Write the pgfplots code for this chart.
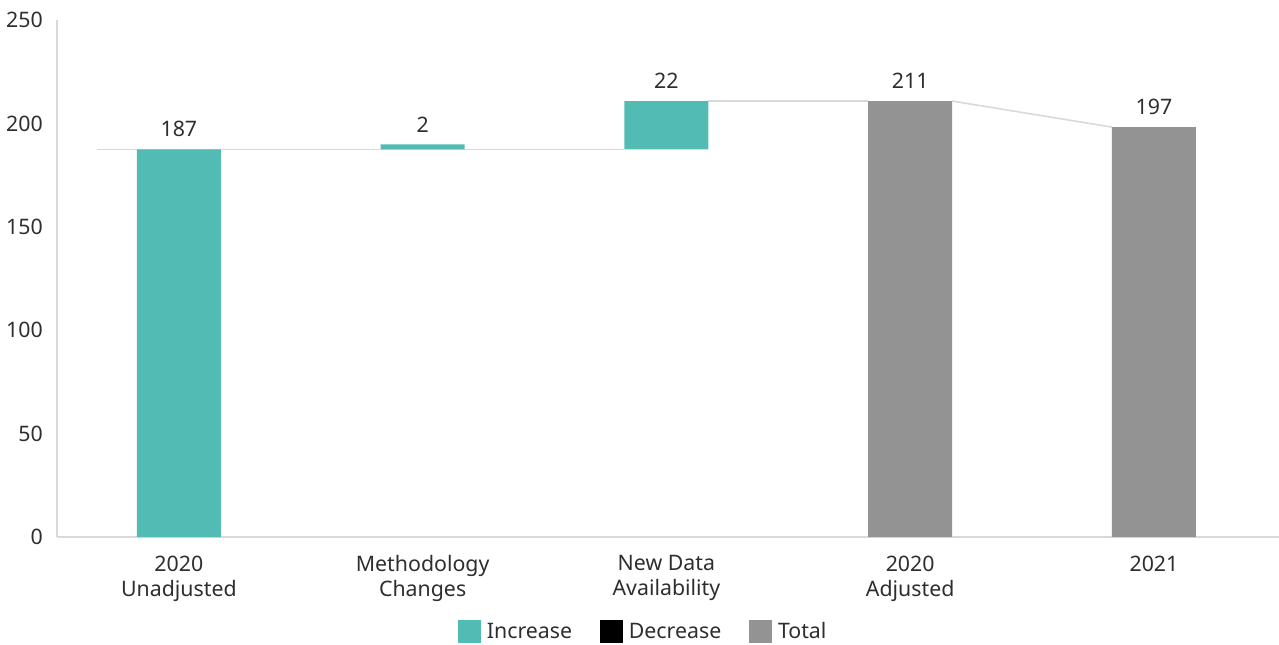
\documentclass[border=0pt]{standalone}
\usepackage{pgfplots}
\pgfplotsset{compat=1.18}
\usepackage{fontspec}
\setmainfont{Noto Sans}

\definecolor{inc}{RGB}{82,187,180}
\definecolor{tot}{RGB}{147,147,147}
\definecolor{linegray}{RGB}{217,217,217}
\definecolor{txt}{RGB}{46,46,46}

\pgfplotsset{
  wf/.style={
    scale only axis,
    width=916.5pt, height=387.75pt,
    xmin=-0.5, xmax=4.513,
    ymin=0, ymax=250,
  }
}

\begin{document}
\begin{tikzpicture}[font=\fontsize{16}{18.75}\selectfont, text=txt]
% connector lines (behind the bars) and value labels
\begin{axis}[wf, hide axis]
  \addplot[linegray, line width=1.2pt] coordinates {(-0.336,187.4) (1.828,187.4)};
  \addplot[linegray, line width=1.2pt] coordinates {(2.172,210.8) (2.828,210.8)};
  \addplot[linegray, line width=1.2pt] coordinates {(3.172,210.8) (3.828,198.2)};
  \addplot[draw=none, point meta=explicit symbolic, nodes near coords,
    nodes near coords style={anchor=south, inner sep=0pt, yshift=9pt, text=txt}]
    coordinates {
    (0,187.4) [187]
    (1,189.9) [2]
    (2,210.8) [22]
    (3,210.8) [211]
    (4,198.2) [197]
  };
\end{axis}
% bars
\begin{axis}[
    wf,
    ybar stacked,
    bar width=63pt,
    axis lines=left,
    axis line style={linegray, line width=1pt, -},
    major tick length=0pt,
    ytick={0,50,...,250},
    xtick={0,1,2,3,4},
    xticklabels={{2020\\Unadjusted},{Methodology\\Changes},{New Data\\Availability},{2020\\Adjusted},{2021}},
    xticklabel style={align=center, yshift=-10.5pt},
    yticklabel style={inner sep=0pt, xshift=-10.5pt},
    /pgf/number format/assume math mode=true,
    every tick label/.append style={text=txt},
    legend columns=-1,
    legend style={draw=none, fill=none, at={(0.479,-0.183)}, anchor=center,
      nodes={inner sep=0pt, text=txt},
      /tikz/every even column/.append style={column sep=21pt},
      /tikz/every odd column/.append style={column sep=4.5pt}},
    legend image code/.code={\fill[#1] (0pt,-8.5pt) rectangle (17pt,8.5pt);},
  ]
  % invisible base of the floating bars
  \addplot[fill=none, draw=none, forget plot] coordinates {
    (0,0) (1,187.4) (2,187.4) (3,0) (4,0)
  };
  \addplot[fill=inc, draw=none] coordinates {
    (0,187.4) (1,2.5) (2,23.4) (3,0) (4,0)
  };
  \addplot[fill=black, draw=none] coordinates {
    (0,0) (1,0) (2,0) (3,0) (4,0)
  };
  \addplot[fill=tot, draw=none] coordinates {
    (0,0) (1,0) (2,0) (3,210.8) (4,198.2)
  };
  \legend{Increase, Decrease, Total}
\end{axis}
\pgfresetboundingbox
\path (-42.75pt,-80.25pt) rectangle (916.5pt,402.75pt);
\end{tikzpicture}
\end{document}
